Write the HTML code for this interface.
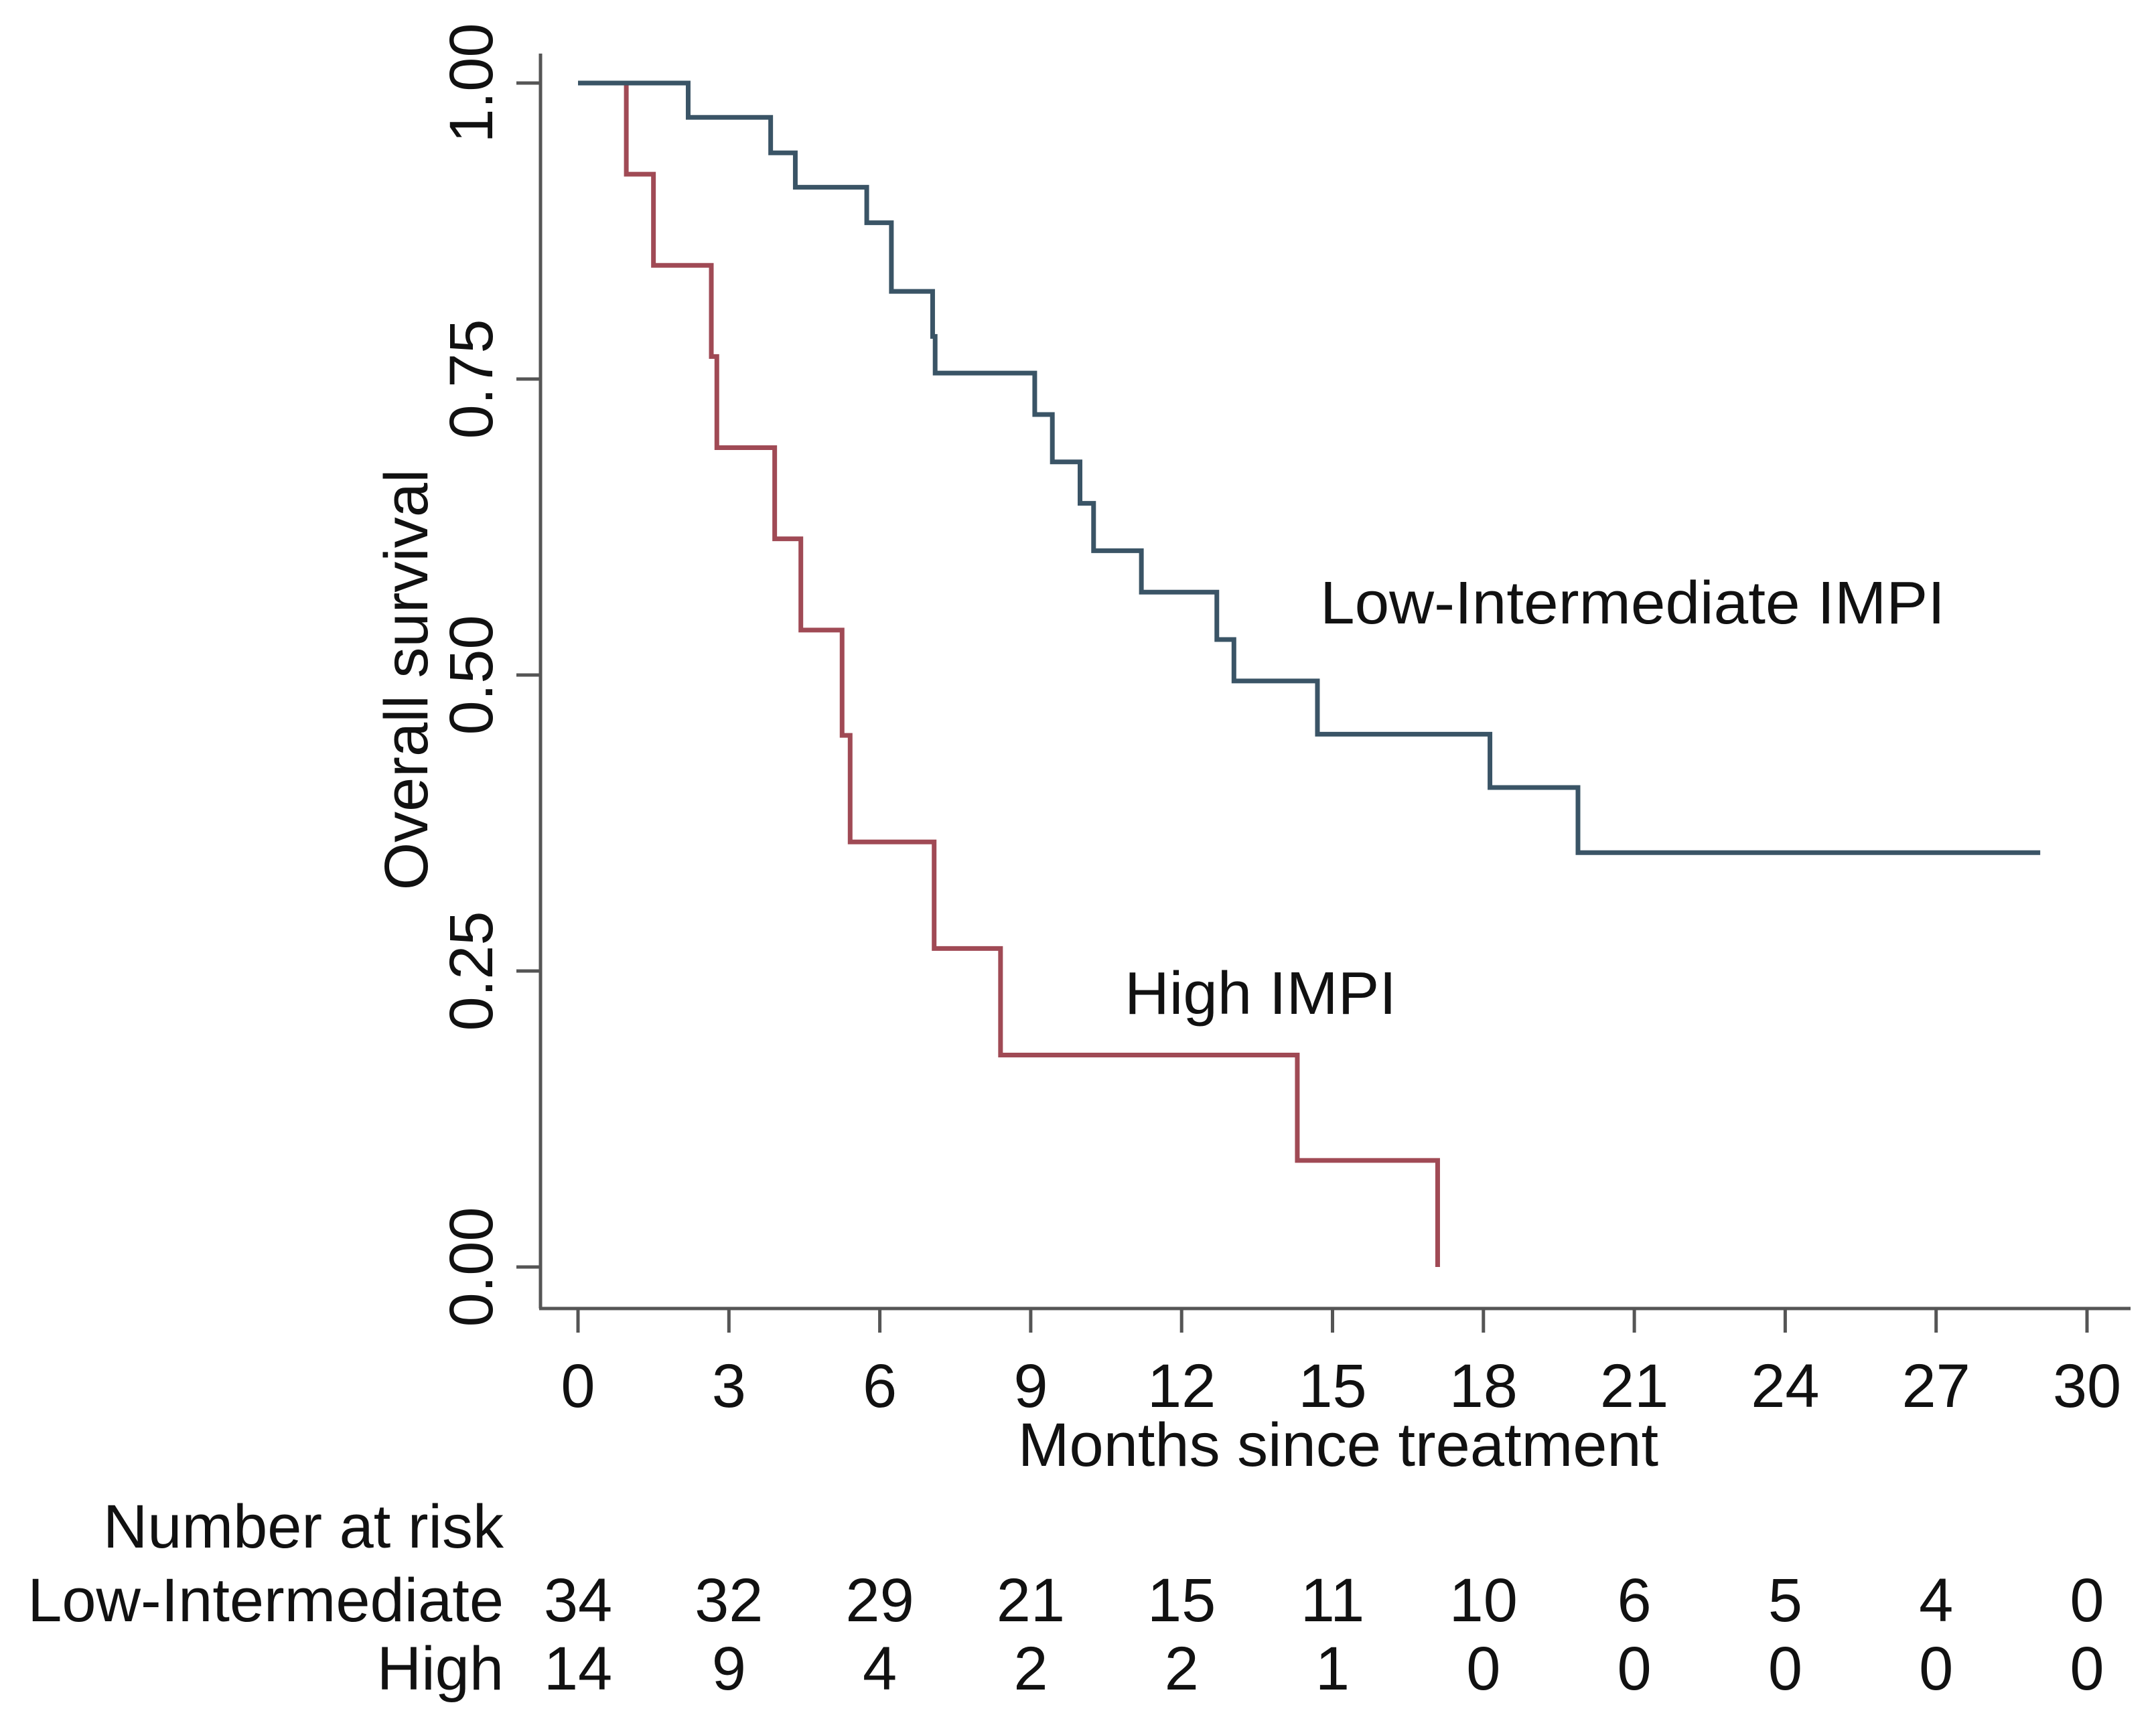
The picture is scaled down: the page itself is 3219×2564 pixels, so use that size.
<!DOCTYPE html>
<html><head><meta charset="utf-8"><style>
html,body{margin:0;padding:0;background:#fff;}
svg{display:block;font-family:"Liberation Sans",Arial,sans-serif;}
</style></head><body>
<svg id="chart" width="3219" height="2564" viewBox="0 0 3219 2564" xmlns="http://www.w3.org/2000/svg">
<rect width="3219" height="2564" fill="#fff"/>
<g id="axes"></g>
<g id="curves"></g>
<g id="labels"></g>
</svg>
<script>
const xTicks = [0,3,6,9,12,15,18,21,24,27,30];
const yTicks = [0,0.25,0.5,0.75,1.0];
const yTickLabels = ["0.00","0.25","0.50","0.75","1.00"];
const lowTimes = [0,2.19,3.83,4.32,5.74,6.23,7.05,7.1,9.08,9.43,9.98,10.25,11.2,12.7,13.04,14.7,18.13,19.88,29.07];
const lowSurv  = [1,0.971,0.941,0.912,0.882,0.824,0.786,0.755,0.72,0.68,0.645,0.605,0.57,0.53,0.495,0.45,0.405,0.35,0.35];
const highTimes = [0,0.96,1.5,2.65,2.76,3.91,4.43,5.25,5.41,7.08,8.4,14.3,17.09];
const highSurv  = [1,0.923,0.846,0.769,0.692,0.615,0.538,0.449,0.359,0.269,0.179,0.09,0];
const riskLow = [34,32,29,21,15,11,10,6,5,4,0];
const riskHigh = [14,9,4,2,2,1,0,0,0,0,0];

const NS="http://www.w3.org/2000/svg";
const X0=863, PXM=75.1, Y0=1892, PXU=1768;
function sx(t){return X0+t*PXM;}
function sy(v){return Y0-v*PXU;}
function mk(tag,attrs,parent,text){const e=document.createElementNS(NS,tag);for(const k in attrs)e.setAttribute(k,attrs[k]);if(text!==undefined)e.textContent=text;parent.appendChild(e);return e;}
const axes=document.getElementById('axes'), curves=document.getElementById('curves'), labels=document.getElementById('labels');
const AX="#555";
let e;
e=mk('line',{x1:807,y1:80,x2:807,y2:1954,stroke:AX,'stroke-width':5},axes);


e=mk('line',{x1:805,y1:1954,x2:3181,y2:1954,stroke:AX,'stroke-width':5},axes);


xTicks.forEach(t=>{
  e=mk('line',{x1:sx(t),y1:1954,x2:sx(t),y2:1990,stroke:AX,'stroke-width':5},axes);
  
  
  e=mk('text',{x:sx(t),y:2101,'font-size':92,'text-anchor':'middle',fill:'#111'},labels,String(t));
  
  
});
yTicks.forEach((v,i)=>{
  e=mk('line',{x1:771,y1:sy(v),x2:807,y2:sy(v),stroke:AX,'stroke-width':5},axes);
  
  
  e=mk('text',{x:0,y:0,'font-size':92,'text-anchor':'middle',fill:'#111',transform:`translate(735,${sy(v)}) rotate(-90)`},labels,yTickLabels[i]);
  
  
});
function stepPath(ts,vs){let d=`M${sx(ts[0])},${sy(vs[0])}`;for(let i=1;i<ts.length;i++){d+=` H${sx(ts[i])} V${sy(vs[i])}`;}return d;}
e=mk('path',{d:stepPath(highTimes,highSurv),fill:'none',stroke:'#a04a55','stroke-width':7},curves);


e=mk('path',{d:stepPath(lowTimes,lowSurv),fill:'none',stroke:'#3a5466','stroke-width':7},curves);


e=mk('text',{x:0,y:0,'font-size':92,'text-anchor':'middle',fill:'#111',transform:'translate(638,1015) rotate(-90)'},labels,'Overall survival');


e=mk('text',{x:1998,y:2189,'font-size':92,'text-anchor':'middle',fill:'#111'},labels,'Months since treatment');


e=mk('text',{x:1971,y:931,'font-size':90,fill:'#111',textLength:933,lengthAdjust:'spacingAndGlyphs'},labels,'Low-Intermediate IMPI');


e=mk('text',{x:1679,y:1514,'font-size':90,fill:'#111',textLength:406,lengthAdjust:'spacingAndGlyphs'},labels,'High IMPI');


e=mk('text',{x:752,y:2311,'font-size':92,'text-anchor':'end',fill:'#111'},labels,'Number at risk');


e=mk('text',{x:752,y:2421,'font-size':92,'text-anchor':'end',fill:'#111'},labels,'Low-Intermediate');


e=mk('text',{x:752,y:2523,'font-size':92,'text-anchor':'end',fill:'#111'},labels,'High');


xTicks.forEach((t,i)=>{
  e=mk('text',{x:sx(t),y:2421,'font-size':92,'text-anchor':'middle',fill:'#111'},labels,String(riskLow[i]));
  
  
  e=mk('text',{x:sx(t),y:2523,'font-size':92,'text-anchor':'middle',fill:'#111'},labels,String(riskHigh[i]));
  
  
});
</script>
</body></html>
